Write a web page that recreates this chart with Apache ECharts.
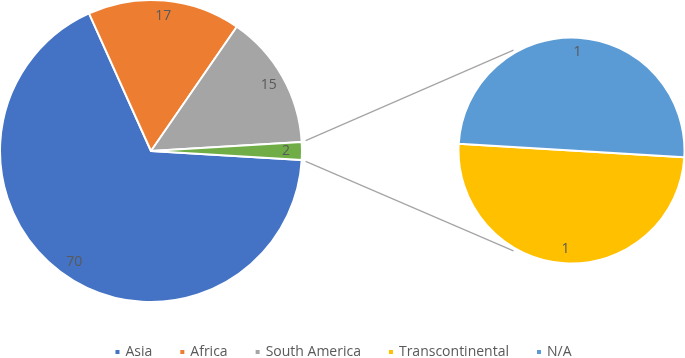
<!DOCTYPE html>
<html>
<head>
<meta charset="utf-8">
<script src="https://cdn.jsdelivr.net/npm/echarts@6/dist/echarts.min.js"></script>
<style>html,body{margin:0;padding:0;background:#fff}#c{width:685px;height:358px}</style>
</head>
<body>
<div id="c"></div>
<script>
const mainCategories = ['Asia', 'Africa', 'South America', 'Other'];
const mainValues = [70, 17, 15, 2];
const subCategories = ['Transcontinental', 'N/A'];
const subValues = [1, 1];
const legendNames = ['Asia', 'Africa', 'South America', 'Transcontinental', 'N/A'];

const colors = {
  'Asia': '#4472C4', 'Africa': '#ED7D31', 'South America': '#A5A5A5',
  'Other': '#70AD47', 'Transcontinental': '#FFC000', 'N/A': '#5B9BD5'
};
const FONT = '"Open Sans", Lato, sans-serif';
const TEXT = '#595959';

const C1 = [151, 151], R1 = 151;
const C2 = [571.5, 150.5], R2 = 113;

const mainTotal = mainValues.reduce((a, b) => a + b, 0);
const half = 360 * mainValues[mainValues.length - 1] / mainTotal / 2;
const startMain = -half;
const startSub = -half;

function mk(cats, vals) {
  return cats.map((n, i) => ({ name: n, value: vals[i], itemStyle: { color: colors[n] } }));
}
function lbl(cats, vals) {
  return cats.map((n, i) => ({ name: n, value: vals[i] }));
}

const pieBase = {
  type: 'pie', clockwise: true, avoidLabelOverlap: false, silent: true,
  emphasis: { disabled: true }, animation: false
};

const chart = echarts.init(document.getElementById('c'), null, { renderer: 'canvas' });

const deg = Math.PI / 180;
const a1 = half + 0.4;
const a2 = 120;
function pt(c, r, a) { return [c[0] + r * Math.cos(a * deg), c[1] - r * Math.sin(a * deg)]; }
const p1t = pt(C1, R1 + 4, a1), p1b = pt(C1, R1 + 4, -a1);
const p2t = pt(C2, R2 + 3, a2), p2b = pt(C2, R2 + 3, -a2);

chart.setOption({
  backgroundColor: '#fff',
  textStyle: { fontFamily: FONT },
  legend: {
    data: legendNames, top: 340, left: 'center', icon: 'rect', itemWidth: 6, itemHeight: 6,
    itemGap: 26, textStyle: { color: TEXT, fontSize: 14, fontFamily: FONT }, selectedMode: false
  },
  graphic: [
    { type: 'line', shape: { x1: p1t[0], y1: p1t[1], x2: p2t[0], y2: p2t[1] }, style: { stroke: '#A5A5A5', lineWidth: 1.3 } },
    { type: 'line', shape: { x1: p1b[0], y1: p1b[1], x2: p2b[0], y2: p2b[1] }, style: { stroke: '#A5A5A5', lineWidth: 1.3 } }
  ],
  series: [
    Object.assign({}, pieBase, {
      name: 'main', center: C1, radius: [0, R1], startAngle: startMain,
      data: mk(mainCategories, mainValues),
      itemStyle: { borderColor: '#fff', borderWidth: 2 },
      label: { show: false }, labelLine: { show: false }
    }),
    Object.assign({}, pieBase, {
      name: 'mainLabels', center: C1, radius: [R1 * 0.75, R1], startAngle: startMain,
      data: lbl(mainCategories, mainValues),
      itemStyle: { color: 'rgba(0,0,0,0)' },
      label: { show: true, position: 'inside', formatter: '{c}', color: TEXT, fontSize: 14, fontFamily: FONT },
      labelLine: { show: false }
    }),
    Object.assign({}, pieBase, {
      name: 'sub', center: C2, radius: [0, R2], startAngle: startSub,
      data: mk(subCategories, subValues),
      itemStyle: { borderColor: '#fff', borderWidth: 2 },
      label: { show: false }, labelLine: { show: false }
    }),
    Object.assign({}, pieBase, {
      name: 'subLabels', center: C2, radius: [R2 * 0.7, R2], startAngle: startSub,
      data: lbl(subCategories, subValues),
      itemStyle: { color: 'rgba(0,0,0,0)' },
      label: { show: true, position: 'inside', formatter: '{c}', color: TEXT, fontSize: 14, fontFamily: FONT },
      labelLine: { show: false }
    })
  ]
});
</script>
</body>
</html>
